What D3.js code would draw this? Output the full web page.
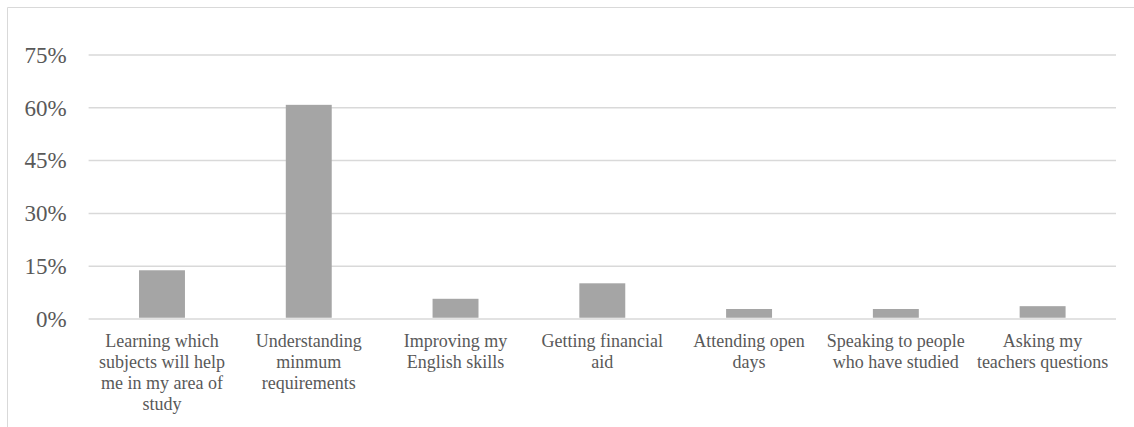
<!DOCTYPE html>
<html><head><meta charset="utf-8">
<script src="https://cdn.jsdelivr.net/npm/d3@7"></script>
<style>body{margin:0;background:#fff;} svg{display:block;}</style>
</head><body>
<svg id="chart" width="1134" height="427"></svg>
<script>
const categories = [
  "Learning which subjects will help me in my area of study",
  "Understanding minmum requirements",
  "Improving my English skills",
  "Getting financial aid",
  "Attending open days",
  "Speaking to people who have studied",
  "Asking my teachers questions"
];
const categoryLines = [
  ["Learning which", "subjects will help", "me in my area of", "study"],
  ["Understanding", "minmum", "requirements"],
  ["Improving my", "English skills"],
  ["Getting financial", "aid"],
  ["Attending open", "days"],
  ["Speaking to people", "who have studied"],
  ["Asking my", "teachers questions"]
];
const values = [0.137, 0.607, 0.056, 0.100, 0.027, 0.027, 0.035];
const tickValues = [0, 0.15, 0.30, 0.45, 0.60, 0.75];

(function () {
const svg = d3.select("#chart");
const W = 1134, H = 427;
const mL = 88.6, mR = 1116, mT = 54.5, mB = 318.5;

// frame
svg.append("path").attr("d", `M7.5,${H} V7.5 H${W}`).attr("fill","none").attr("stroke","#d9d9d9").attr("stroke-width",1);

const x = d3.scaleBand().domain(categories).range([mL, mR]).padding(0);
const y = d3.scaleLinear().domain([0, 0.75]).range([mB, mT]);

const yAxis = d3.axisLeft(y).tickValues(tickValues).tickFormat(d3.format(".0%")).tickSize(-(mR-mL)).tickPadding(22);
const gy = svg.append("g").attr("transform", `translate(${mL},0)`).call(yAxis);
gy.select(".domain").remove();
gy.selectAll(".tick line").attr("stroke","#d9d9d9").attr("stroke-width",1.5);
gy.selectAll(".tick text").attr("fill","#595959").attr("font-family","'Liberation Serif', 'Times New Roman', serif").attr("font-size","23px").attr("dy","0.34em");

const barW = x.bandwidth() * 0.313;
svg.append("g").selectAll("rect").data(values).join("rect")
  .attr("x", (d,i) => x(categories[i]) + x.bandwidth()/2 - barW/2)
  .attr("width", barW)
  .attr("y", d => y(d))
  .attr("height", d => y(0) - y(d) - 0.75)
  .attr("fill", "#a5a5a5");

const gx = svg.append("g");
categories.forEach((c, i) => {
  const cx = x(c) + x.bandwidth()/2;
  const t = gx.append("text")
    .attr("x", cx)
    .attr("y", 346.5)
    .attr("text-anchor","middle")
    .attr("fill","#595959")
    .attr("font-family","'Liberation Serif', 'Times New Roman', serif")
    .attr("font-size","18px");
  categoryLines[i].forEach((ln, j) => {
    t.append("tspan").attr("x", cx).attr("y", 346.5 + j*21.3).text(ln);
  });
});
})();
</script>
</body></html>
